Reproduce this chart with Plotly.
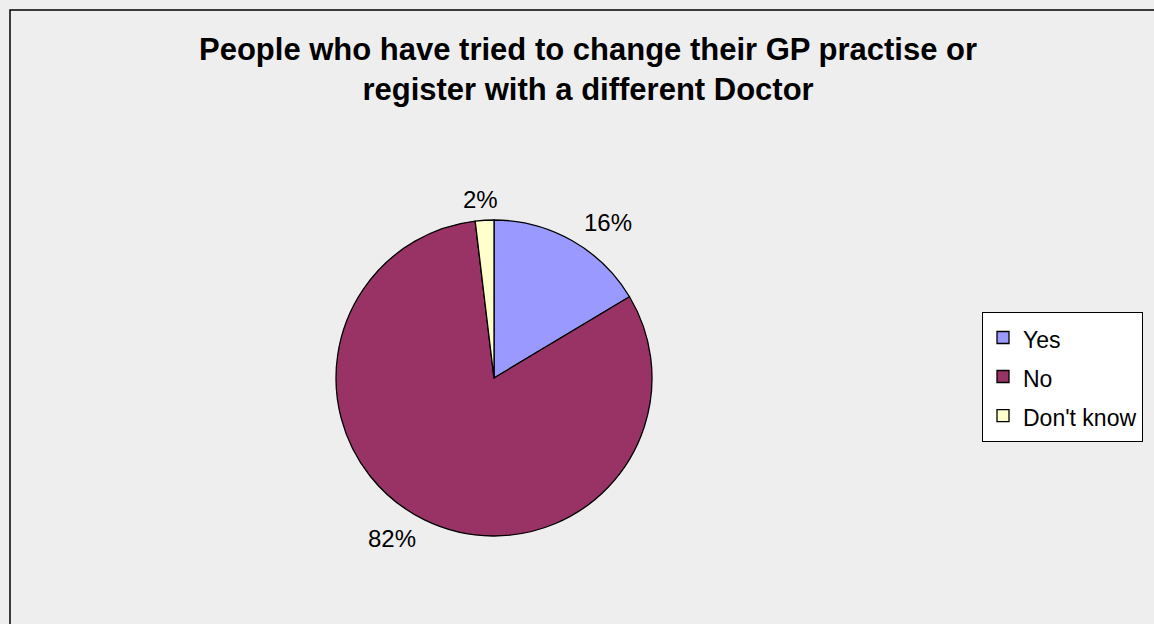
import math
import plotly.graph_objects as go

labels = ["Yes", "No", "Don't know"]
values = [16.4, 81.7, 1.9]
colors = ["#9999FF", "#993366", "#FFFFCC"]

W, H = 1154, 624
cx, cy, r = 494, 378, 158
FONT = "Liberation Sans, Arial, sans-serif"

legend_labels = [f"<span style='font-size:23px'>{l}</span>" for l in labels]

fig = go.Figure(go.Pie(
    labels=legend_labels,
    values=values,
    sort=False,
    direction="clockwise",
    rotation=0,
    marker=dict(colors=colors, line=dict(color="black", width=1.3)),
    textinfo="none",
    hovertemplate="%{value}<extra></extra>",
    showlegend=True,
    domain=dict(x=[(cx - r) / W, (cx + r) / W], y=[(H - cy - r) / H, (H - cy + r) / H]),
))

# percentage labels placed outside each slice, derived from the values
total = sum(values)
annotations = []
cum = 0.0
rx, ry = r + 74, r + 21
for v in values:
    mid = (cum + v / 2) / total * 2 * math.pi
    cum += v
    s, c = math.sin(mid), math.cos(mid)
    px, py = cx + rx * s, cy - ry * c
    annotations.append(dict(
        text=f"{round(v / total * 100)}%",
        x=px / W, y=1 - py / H, xref="paper", yref="paper",
        xanchor="center", yanchor="middle", showarrow=False,
        font=dict(size=24, family=FONT, color="black"),
    ))

annotations.append(dict(
    text="<b>People who have tried to change their GP practise or<br>register with a different Doctor</b>",
    x=588 / W, y=1 - 69 / H, xref="paper", yref="paper",
    xanchor="center", yanchor="middle", showarrow=False,
    font=dict(size=31, family=FONT, color="black"),
))

fig.update_layout(
    width=W, height=H,
    margin=dict(l=0, r=0, t=0, b=0),
    paper_bgcolor="#EEEEEE",
    plot_bgcolor="#EEEEEE",
    font=dict(family=FONT, color="black"),
    legend=dict(
        x=982 / W, xanchor="left", y=(H - 377) / H, yanchor="middle",
        bgcolor="white", bordercolor="black", borderwidth=1,
        font=dict(size=27.7, family=FONT, color="black"),
        itemwidth=30, entrywidth=190,
    ),
    shapes=[dict(type="rect", xref="paper", yref="paper",
                 x0=10 / W, x1=1.02, y0=-0.02, y1=1 - 10 / H,
                 line=dict(color="black", width=1.5), fillcolor="rgba(0,0,0,0)")],
    annotations=annotations,
)

fig.write_html("out.html")
